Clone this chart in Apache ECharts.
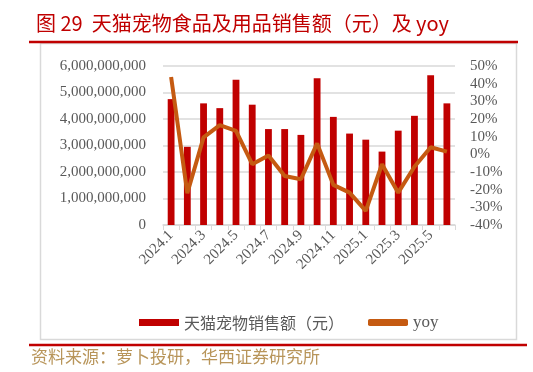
<!DOCTYPE html>
<html>
<head>
<meta charset="utf-8">
<script src="https://cdn.jsdelivr.net/npm/echarts@6/dist/echarts.min.js"></script>
<style>html,body{margin:0;padding:0;background:#fff;}#c{width:533px;height:372px;}</style>
</head>
<body>
<div id="c"></div>
<script>
var categories = ['2024.1','2024.2','2024.3','2024.4','2024.5','2024.6','2024.7','2024.8','2024.9','2024.10','2024.11','2024.12','2025.1','2025.2','2025.3','2025.4','2025.5','2025.6'];
var salesValues = [4.75e9, 2.95e9, 4.59e9, 4.41e9, 5.48e9, 4.54e9, 3.62e9, 3.62e9, 3.40e9, 5.54e9, 4.08e9, 3.45e9, 3.22e9, 2.77e9, 3.56e9, 4.12e9, 5.65e9, 4.59e9];
var yoyValues = [43.8, -22.0, 9.6, 16.5, 13.3, -5.6, -0.6, -12.3, -14.1, 6.2, -17.3, -21.7, -32.0, -5.6, -21.7, -7.0, 4.0, 1.5];
var leftTicks = {min: 0, max: 6e9, interval: 1e9};
var rightTicks = {min: -40, max: 50, interval: 10};
var titleText = '图 29  天猫宠物食品及用品销售额（元）及 yoy';
var sourceText = '资料来源：萝卜投研，华西证券研究所';
var salesName = '天猫宠物销售额（元）';
var yoyName = 'yoy';

var serif = "'Liberation Serif','Times New Roman',serif";
var cjk = "'Noto Sans CJK SC','Noto Sans',sans-serif";
var chart = echarts.init(document.getElementById('c'), null, {renderer: 'canvas'});
function fmt(v){ return String(v).replace(/\B(?=(\d{3})+(?!\d))/g, ','); }
chart.setOption({
  animation: false,
  backgroundColor: '#fff',
  title: {
    text: titleText, left: 31, top: 8,
    textStyle: {color: '#C00000', fontSize: 20, fontWeight: 'normal', fontFamily: cjk}
  },
  graphic: [
    {type: 'rect', shape: {x: 40.5, y: 43.5, width: 476, height: 296}, style: {fill: 'none', stroke: '#d9d9d9', lineWidth: 1.5}, z: 0},
    {type: 'line', shape: {x1: 29, y1: 42, x2: 518, y2: 42}, style: {stroke: '#C00000', lineWidth: 2.5}},
    {type: 'line', shape: {x1: 29, y1: 345, x2: 527, y2: 345}, style: {stroke: '#C00000', lineWidth: 2.5}},
    {type: 'text', left: 31, top: 348, style: {text: sourceText, fill: '#B8955A', fontSize: 17, fontFamily: cjk}}
  ],
  grid: {left: 163, right: 78, top: 66, bottom: 147, containLabel: false},
  legend: {
    left: 134, top: 309, itemGap: 24, itemWidth: 40, itemHeight: 7,
    textStyle: {color: '#595959', fontSize: 16, fontFamily: cjk},
    data: [
      {name: salesName, icon: 'rect'},
      {name: yoyName, icon: 'roundRect', textStyle: {fontFamily: serif, fontSize: 17}}
    ]
  },
  xAxis: {
    type: 'category', data: categories, boundaryGap: true,
    axisLine: {lineStyle: {color: '#d9d9d9', width: 1.5}},
    axisTick: {show: true, interval: 0, length: 5, lineStyle: {color: '#d9d9d9'}},
    axisLabel: {interval: 1, rotate: 45, color: '#595959', fontSize: 15, fontFamily: serif, margin: 8}
  },
  yAxis: [
    {
      type: 'value', min: leftTicks.min, max: leftTicks.max, interval: leftTicks.interval,
      axisLine: {show: false}, axisTick: {show: false},
      axisLabel: {color: '#595959', fontSize: 15, fontFamily: serif, margin: 17, formatter: fmt},
      splitLine: {lineStyle: {color: '#d9d9d9', width: 1.5}}
    },
    {
      type: 'value', min: rightTicks.min, max: rightTicks.max, interval: rightTicks.interval,
      axisLine: {show: false}, axisTick: {show: false},
      axisLabel: {color: '#595959', fontSize: 15, fontFamily: serif, margin: 15, formatter: '{value}%'},
      splitLine: {show: false}
    }
  ],
  series: [
    {name: salesName, type: 'bar', data: salesValues, yAxisIndex: 0, barWidth: '42%', itemStyle: {color: '#C00000'}, z: 2},
    {name: yoyName, type: 'line', data: yoyValues, yAxisIndex: 1, symbol: 'none', lineStyle: {color: '#C55A11', width: 4}, itemStyle: {color: '#C55A11'}, z: 3}
  ]
});
</script>
</body>
</html>
